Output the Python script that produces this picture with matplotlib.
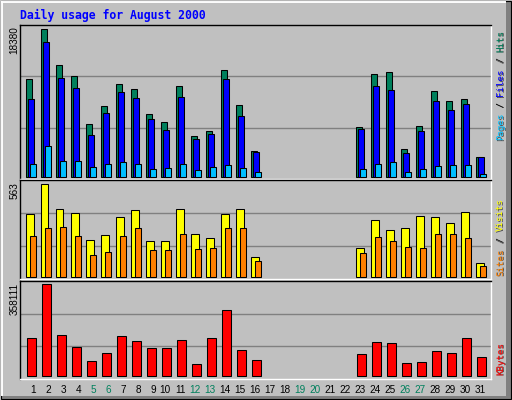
import matplotlib
matplotlib.use("Agg")
import matplotlib.pyplot as plt
from matplotlib.patches import Rectangle

# daily figures, August 2000
days = list(range(1, 32))
hits = [12150, 18380, 13900, 12530, 6540, 8780, 11530, 10900, 7790, 6790,
        11280, 5040, 5660, 13280, 8910, 3170, 0, 0, 0, 0,
        0, 0, 6160, 12780, 13060, 3420, 6290, 10660, 9410, 9660, 2460]
files = [9690, 16770, 12280, 11030, 5170, 7910, 10530, 9780, 7160, 5790,
         9910, 4670, 5290, 12150, 7540, 3040, 0, 0, 0, 0,
         0, 0, 5910, 11280, 10780, 2920, 5660, 9410, 8290, 9030, 2460]
pages = [1550, 3790, 1920, 1920, 1170, 1550, 1800, 1550, 920, 1050,
         1550, 800, 1170, 1420, 1050, 550, 0, 0, 0, 0,
         0, 0, 920, 1550, 1800, 550, 920, 1300, 1420, 1420, 300]
visits = [380, 563, 411, 386, 222, 252, 362, 405, 216, 216,
          411, 258, 234, 380, 411, 118, 0, 0, 0, 0,
          0, 0, 173, 344, 283, 295, 368, 362, 325, 392, 82]
sites = [246, 295, 301, 246, 130, 149, 246, 295, 161, 161,
         258, 167, 173, 295, 295, 94, 0, 0, 0, 0,
         0, 0, 143, 240, 216, 179, 173, 258, 258, 234, 63]
kbytes = [146500, 358111, 158300, 111300, 56400, 87800, 154400, 134800, 107400, 107400,
          138700, 44700, 146500, 256200, 99500, 60300, 0, 0, 0, 0,
          0, 0, 83800, 130900, 127000, 48600, 52500, 95600, 87800, 146500, 72100]
weekend_days = [5, 6, 12, 13, 19, 20, 26, 27]

W, H = 512, 400
DAY_PX = 15
BG = "#C0C0C0"
C_HITS, C_FILES, C_PAGES = "#00805C", "#0000FF", "#00C0FF"
C_SITES, C_VISITS, C_KB = "#FF8000", "#FFFF00", "#FF0000"
SANS = "Liberation Sans"
MONO = "DejaVu Sans Mono"

fig = plt.figure(figsize=(W / 100, H / 100), dpi=100, facecolor=BG)

# pixel overlay for frame and labels
bg = fig.add_axes([0, 0, 1, 1])
bg.set_xlim(0, W)
bg.set_ylim(H, 0)
bg.axis("off")
bg.add_patch(Rectangle((505.5, 1), 5, 397.5, color="#808080", lw=0))
bg.add_patch(Rectangle((1, 395.5), 509.5, 3.5, color="#808080", lw=0))
bg.plot([1.5, 505], [1.5, 1.5], color="white", lw=1.4)
bg.plot([1.5, 1.5], [1.5, 395], color="white", lw=1.4)
bg.add_patch(Rectangle((0.5, 0.5), 510.5, 398.5, fill=False, ec="black", lw=0.8))


def panel(box, vmax, series, pad_b=2.5, pad_t=4.3):
    x0, y0, x1, y1 = box
    ax = fig.add_axes([x0 / W, 1 - y1 / H, (x1 - x0) / W, (y1 - y0) / H])
    ax.set_facecolor(BG)
    h = (y1 - y0) - pad_b - pad_t
    ax.set_ylim(-pad_b * vmax / h, vmax + pad_t * vmax / h)
    ax.set_xlim(0, (x1 - x0) / DAY_PX)
    for f in (1 / 3, 2 / 3):
        ax.plot([0, 1], [f, f], transform=ax.transAxes, color="#808080", lw=1.0, zorder=0)
    for vals, color, left_px, w_px in series:
        xs = [d - 1 + left_px / DAY_PX for d, v in zip(days, vals) if v > 0]
        hs = [v for v in vals if v > 0]
        ax.bar(xs, hs, width=w_px / DAY_PX, align="edge", color=color,
               edgecolor="black", linewidth=0.75, zorder=2)
    for side, c in (("top", "black"), ("left", "black"), ("bottom", "white"), ("right", "white")):
        ax.spines[side].set_color(c)
        ax.spines[side].set_linewidth(1.0)
    ax.set_xticks([])
    ax.set_yticks([])
    return ax


panel((20, 25, 491, 179), max(hits),
      [(hits, C_HITS, 5.8, 6.3), (files, C_FILES, 7.5, 6.7), (pages, C_PAGES, 9.5, 6.7)])
panel((20, 180, 491, 279), max(visits),
      [(visits, C_VISITS, 5.8, 7.7), (sites, C_SITES, 9.5, 6.7)])
ax3 = panel((20, 281, 491, 378.7), max(kbytes), [(kbytes, C_KB, 6.8, 9.4)], pad_b=3.0, pad_t=3.3)

# day labels
tick_x = [d - 1 + (13.3 if d < 10 else 10.3) / DAY_PX for d in days]
ax3.set_xticks(tick_x, [str(d) for d in days])
ax3.tick_params(axis="x", length=0, pad=4.8, labelsize=7.2)
for d, lab in zip(days, ax3.get_xticklabels()):
    lab.set_family(SANS)
    lab.set_color(C_HITS if d in weekend_days else "black")

# title
bg.text(20, 15, "Daily usage for August 2000", family=MONO, weight="bold",
        size=8.3, color="#0000FF", ha="left", va="center")

# max values on the left
for y, v in ((26.5, max(hits)), (182, max(visits)), (282.5, max(kbytes))):
    bg.text(14.7, y, str(v), rotation=90, ha="center", va="top", family=SANS, size=7.2)


def vlabel(x, yc, pieces, size=6.6):
    adv = 0.602 * size * 100 / 72
    y = yc + sum(len(t) for t, _ in pieces) * adv / 2
    for text, color in pieces:
        # dark emboss shadow, then the coloured text
        for dx, dy, c in ((0.8, 0.6, "#505050"), (0, 0, color)):
            bg.text(x + dx, y + dy, text, rotation=90, rotation_mode="anchor", ha="left",
                    va="center", family=MONO, size=size, color=c)
        y -= len(text) * adv


vlabel(500.7, 85, [("Pages", C_PAGES), (" / ", "black"), ("Files", C_FILES),
                   (" / ", "black"), ("Hits", C_HITS)])
vlabel(500.7, 237, [("Sites", C_SITES), (" / ", "black"), ("Visits", C_VISITS)])
vlabel(500.7, 358, [("KBytes", C_KB)])

fig.savefig("out.png", dpi=100, facecolor=BG)
